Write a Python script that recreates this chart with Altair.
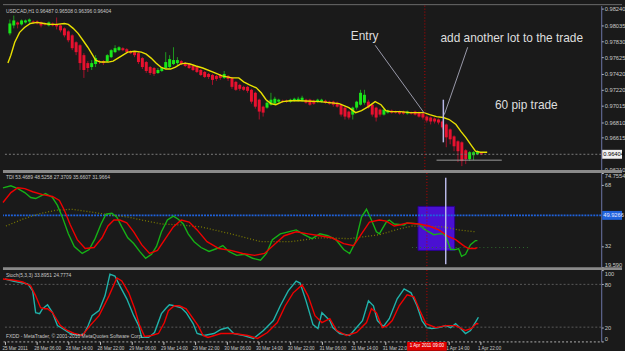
import altair as alt
import pandas as pd

# ---------------- data ----------------
opens = [0.97930, 0.98030, 0.98068, 0.98043, 0.98068, 0.98080, 0.98080, 0.98080, 0.98068, 0.98055,
         0.98030, 0.98055, 0.98043, 0.98030, 0.97993, 0.97955, 0.97905, 0.97818, 0.97780, 0.97655,
         0.97555, 0.97505, 0.97543, 0.97580, 0.97580, 0.97580, 0.97630, 0.97693, 0.97718, 0.97743,
         0.97730, 0.97705, 0.97693, 0.97680, 0.97618, 0.97568, 0.97505, 0.97493, 0.97430, 0.97455,
         0.97493, 0.97505, 0.97543, 0.97555, 0.97580, 0.97555, 0.97543, 0.97518, 0.97505, 0.97468,
         0.97443, 0.97418, 0.97405, 0.97393, 0.97405, 0.97368, 0.97393, 0.97368, 0.97318, 0.97280,
         0.97255, 0.97255, 0.97218, 0.97180, 0.97093, 0.97005, 0.96993, 0.97030, 0.97043, 0.97068,
         0.97080, 0.97080, 0.97068, 0.97080, 0.97080, 0.97080, 0.97093, 0.97093, 0.97080, 0.97068,
         0.97068, 0.97080, 0.97068, 0.97068, 0.97055, 0.97030, 0.96993, 0.96943, 0.96905, 0.96993,
         0.97030, 0.97055, 0.97068, 0.97030, 0.96993, 0.96968, 0.96905, 0.96930, 0.96955, 0.96943,
         0.96943, 0.96943, 0.96918, 0.96930, 0.96943, 0.96930, 0.96918, 0.96880, 0.96868, 0.96855,
         0.96843, 0.96818, 0.96780, 0.96718, 0.96630, 0.96568, 0.96555, 0.96455, 0.96343, 0.96393,
         0.96405, 0.96418]
closes = [0.98055, 0.98093, 0.98043, 0.98093, 0.98093, 0.98105, 0.98068, 0.98055, 0.98030, 0.98043,
          0.98068, 0.98030, 0.98018, 0.97968, 0.97905, 0.97843, 0.97743, 0.97693, 0.97555, 0.97468,
          0.97493, 0.97555, 0.97618, 0.97568, 0.97555, 0.97655, 0.97718, 0.97743, 0.97755, 0.97718,
          0.97693, 0.97680, 0.97655, 0.97568, 0.97505, 0.97455, 0.97430, 0.97418, 0.97468, 0.97493,
          0.97568, 0.97605, 0.97593, 0.97593, 0.97543, 0.97518, 0.97493, 0.97468, 0.97443, 0.97405,
          0.97380, 0.97380, 0.97343, 0.97355, 0.97368, 0.97418, 0.97355, 0.97255, 0.97218, 0.97230,
          0.97218, 0.97205, 0.97068, 0.97005, 0.96943, 0.96930, 0.97055, 0.97093, 0.97105, 0.97093,
          0.97068, 0.97068, 0.97093, 0.97105, 0.97105, 0.97118, 0.97055, 0.97030, 0.97043, 0.97093,
          0.97093, 0.97055, 0.97043, 0.97030, 0.97005, 0.96905, 0.96880, 0.96868, 0.96993, 0.97068,
          0.97180, 0.97155, 0.96993, 0.96905, 0.96868, 0.96905, 0.96968, 0.96955, 0.96930, 0.96930,
          0.96918, 0.96918, 0.96943, 0.96918, 0.96905, 0.96880, 0.96868, 0.96830, 0.96818, 0.96818,
          0.96805, 0.96743, 0.96618, 0.96593, 0.96505, 0.96443, 0.96318, 0.96343, 0.96430, 0.96430,
          0.96443, 0.96404]
highs = [0.98105, 0.98155, 0.98080, 0.98105, 0.98105, 0.98118, 0.98093, 0.98093, 0.98080, 0.98068,
         0.98080, 0.98068, 0.98130, 0.98043, 0.98005, 0.97968, 0.97918, 0.97830, 0.97793, 0.97680,
         0.97580, 0.97593, 0.97655, 0.97593, 0.97593, 0.97668, 0.97730, 0.97780, 0.97768, 0.97755,
         0.97743, 0.97718, 0.97705, 0.97693, 0.97630, 0.97580, 0.97518, 0.97505, 0.97493, 0.97505,
         0.97693, 0.97655, 0.97755, 0.97630, 0.97593, 0.97568, 0.97555, 0.97530, 0.97518, 0.97480,
         0.97455, 0.97430, 0.97418, 0.97405, 0.97418, 0.97455, 0.97405, 0.97380, 0.97330, 0.97293,
         0.97268, 0.97268, 0.97230, 0.97193, 0.97105, 0.97018, 0.97080, 0.97180, 0.97130, 0.97105,
         0.97093, 0.97093, 0.97105, 0.97118, 0.97130, 0.97143, 0.97105, 0.97105, 0.97093, 0.97105,
         0.97105, 0.97093, 0.97080, 0.97080, 0.97068, 0.97043, 0.97005, 0.96955, 0.97005, 0.97080,
         0.97218, 0.97218, 0.97093, 0.97043, 0.97005, 0.96980, 0.96980, 0.96968, 0.96968, 0.96955,
         0.96955, 0.96955, 0.96955, 0.96943, 0.96955, 0.96943, 0.96930, 0.96893, 0.96880, 0.96868,
         0.96855, 0.96830, 0.96793, 0.96730, 0.96643, 0.96580, 0.96568, 0.96468, 0.96443, 0.96443,
         0.96455, 0.96430]
lows = [0.97905, 0.97993, 0.97993, 0.98030, 0.98055, 0.98055, 0.98055, 0.98043, 0.98005, 0.98030,
        0.98018, 0.98018, 0.97980, 0.97943, 0.97880, 0.97818, 0.97718, 0.97655, 0.97468, 0.97368,
        0.97443, 0.97468, 0.97505, 0.97543, 0.97530, 0.97568, 0.97618, 0.97680, 0.97705, 0.97705,
        0.97680, 0.97668, 0.97630, 0.97543, 0.97480, 0.97430, 0.97405, 0.97393, 0.97418, 0.97443,
        0.97480, 0.97493, 0.97530, 0.97530, 0.97530, 0.97505, 0.97480, 0.97455, 0.97430, 0.97393,
        0.97368, 0.97355, 0.97280, 0.97330, 0.97343, 0.97355, 0.97330, 0.97230, 0.97205, 0.97205,
        0.97205, 0.97180, 0.97043, 0.96980, 0.96843, 0.96880, 0.96980, 0.97018, 0.97030, 0.97055,
        0.97055, 0.97055, 0.97055, 0.97068, 0.97068, 0.97068, 0.97043, 0.97018, 0.97030, 0.97055,
        0.97055, 0.97043, 0.97030, 0.97005, 0.96993, 0.96880, 0.96843, 0.96843, 0.96843, 0.96968,
        0.97018, 0.97030, 0.96980, 0.96880, 0.96818, 0.96880, 0.96893, 0.96918, 0.96918, 0.96918,
        0.96905, 0.96905, 0.96905, 0.96905, 0.96893, 0.96868, 0.96843, 0.96805, 0.96780, 0.96793,
        0.96780, 0.96718, 0.96493, 0.96530, 0.96443, 0.96305, 0.96255, 0.96280, 0.96318, 0.96330,
        0.96393, 0.96393]

ma_index = [-0.5, 0.25, 1.25, 2.5, 3.75, 5.25, 7, 8.75, 10.25, 12, 14, 15, 16.25, 17.5, 18.75, 20,
            21.25, 22, 23.25, 25.25, 26.5, 27.75, 29, 30.25, 32, 33.75, 35, 36.25, 37.5, 38.75, 40,
            41.25, 42.5, 43.75, 45, 46.25, 47.75, 49.5, 52, 54.5, 57, 58.75, 60, 61.5, 63.25, 64.5,
            65.75, 67, 68.25, 70, 72, 74.5, 79.5, 84.5, 87, 88.75, 90.25, 92, 93.75, 95.25, 96.5,
            97.75, 100.25, 102.75, 106.25, 107.75, 109.5, 111.25, 112.75, 114.5, 115.75, 117,
            118.25, 119.5, 120.75, 122.5]
ma_value = [0.97555, 0.97655, 0.97818, 0.97943, 0.98005, 0.98055, 0.98068, 0.98055, 0.98043, 0.98043,
            0.98055, 0.98043, 0.97993, 0.97930, 0.97843, 0.97755, 0.97655, 0.97593, 0.97568, 0.97568,
            0.97580, 0.97618, 0.97655, 0.97693, 0.97705, 0.97693, 0.97668, 0.97618, 0.97555, 0.97505,
            0.97480, 0.97480, 0.97505, 0.97543, 0.97555, 0.97543, 0.97518, 0.97493, 0.97443, 0.97393,
            0.97368, 0.97368, 0.97318, 0.97280, 0.97243, 0.97180, 0.97093, 0.97043, 0.97030, 0.97068,
            0.97080, 0.97080, 0.97068, 0.97043, 0.96993, 0.96930, 0.96955, 0.97005, 0.97068, 0.97030,
            0.96955, 0.96943, 0.96943, 0.96930, 0.96930, 0.96905, 0.96880, 0.96868, 0.96843, 0.96780,
            0.96693, 0.96618, 0.96530, 0.96443, 0.96430, 0.96430]

price_ticks = [0.98240, 0.98035, 0.97830, 0.97625, 0.97420, 0.97220, 0.97015, 0.96810, 0.96615, 0.96210]

tdi_rsi_index = [-0.5, 1.5, 3.25, 5, 6.5, 7.75, 10.25, 12, 13.25, 14.5, 16, 17.5, 19.5, 21.25, 22.75,
                 24.25, 25.5, 27, 28.25, 29.5, 31, 32.5, 34, 35.5, 37, 38.25, 39.5, 41, 42.5, 43.75,
                 45, 46.25, 47.75, 49.5, 51.5, 53.5, 55, 56.5, 58.5, 60.5, 62.5, 64.5, 66, 67.5, 69.5,
                 71.5, 73.5, 75.5, 77.5, 79.5, 81.5, 83.5, 85.5, 87, 88.5, 90, 91.25, 92.5, 93.75,
                 94.5, 96.25, 97, 98.25, 100.75, 101.5, 104.5, 105.75, 107, 108.25, 109.5, 110.75,
                 111.5, 112.5, 113.75, 114.5, 115.25, 116.25, 117.5, 118.75, 119.25]
tdi_rsi_value = [66.1, 67.3, 65.6, 63.3, 60.4, 59.8, 62.7, 60.4, 55.8, 48.9, 39.1, 31.7, 27.6, 29.9,
                 36.3, 44.9, 50.6, 51.2, 48.9, 43.2, 36.8, 33.4, 28.8, 24.8, 27.1, 31.7, 40.3, 47.2,
                 49.5, 47.7, 44.9, 39.1, 34.5, 31.1, 28.8, 30.5, 32.2, 28.8, 26.5, 27.1, 24.8, 23.6,
                 27.6, 35.7, 39.1, 40.3, 41.4, 38.6, 36.3, 39.1, 38.0, 35.7, 29.9, 27.6, 34.5, 48.9,
                 53.5, 47.2, 40.3, 39.1, 46.0, 47.2, 44.9, 44.3, 45.5, 44.9, 42.0, 40.3, 38.6, 39.1,
                 39.1, 36.3, 29.9, 29.9, 30.5, 25.9, 27.1, 32.8, 35.1, 35.1]
tdi_sig_index = [-0.5, 1.5, 3.25, 5, 7, 9.5, 12, 13.75, 15, 16.5, 18.25, 20.25, 22.5, 24.5, 26, 27.5,
                 29, 30.75, 32.5, 34.5, 36.5, 38.5, 40.5, 42.5, 44.5, 46.5, 48.5, 51, 54, 57, 60, 63,
                 65.5, 68, 70.5, 73.5, 76.5, 79.5, 82.5, 85.5, 88, 90, 92, 94.5, 96.25, 98.25, 99.5,
                 101.5, 104.5, 107, 109.5, 112, 113.75, 115.75, 117, 118.75, 119.25]
tdi_sig_value = [57.5, 63.3, 66.1, 65.6, 63.8, 62.1, 61.0, 58.7, 52.9, 44.3, 35.7, 30.5, 31.1, 36.8,
                 43.7, 47.2, 47.2, 45.5, 40.3, 32.8, 27.6, 29.4, 36.3, 43.2, 47.2, 46.0, 41.4, 34.5,
                 30.5, 29.4, 27.6, 26.5, 27.6, 32.8, 38.0, 40.3, 39.1, 38.0, 36.8, 33.4, 32.2, 39.1,
                 46.0, 47.2, 46.6, 43.7, 44.3, 45.5, 44.9, 43.7, 41.4, 37.4, 35.7, 32.2, 30.5, 30.5, 31.1]
tdi_base_index = [0.25, 4.5, 8.25, 12.75, 17, 22, 27, 31.25, 34.5, 39.5, 44.5, 49.5, 57, 64.5, 72,
                  79.5, 87, 94.5, 99.5, 102.75, 110.75, 114.5, 118.75]
tdi_base_value = [43.7, 47.7, 50.6, 52.9, 53.5, 51.8, 50.0, 48.9, 47.2, 44.9, 44.3, 43.2, 39.1, 34.5,
                  34.5, 36.8, 36.3, 38.6, 42.0, 43.7, 43.2, 41.4, 40.3]
tdi_mid_level = 49.9266
tdi_ticks = [19.59, 32, 68, 74.7554]

stk_index = [0, 2, 4.5, 5.75, 7, 7.75, 8.75, 9.5, 10.75, 12, 13.25, 14.5, 16.5, 18.75, 20, 21, 22,
             23.75, 25.25, 26.5, 27.75, 29, 30.75, 32.5, 33.75, 34.5, 36.25, 37.75, 39.5, 40.75,
             41.5, 42.75, 44.5, 45.75, 47.5, 48.5, 50.25, 52.75, 54.5, 56.25, 57.75, 60.25, 62.75,
             65.25, 67.75, 69.5, 71.5, 73.5, 74.5, 76, 77.75, 79, 80, 82, 82.75, 84.5, 87, 88.75,
             90.25, 91.75, 93, 94, 95.5, 97, 99, 100.75, 102.5, 104, 105.25, 106.5, 107.75, 109.5,
             111.25, 112.5, 113.75, 115, 116.25, 117.5, 118.25, 119, 119.5]
stk_value = [87.5, 84.7, 81.9, 80.6, 70.8, 40.3, 38.9, 45.8, 51.4, 40.3, 22.2, 18.1, 11.1, 8.3, 11.1,
             22.2, 36.1, 43.1, 63.9, 94.4, 91.7, 77.8, 59.7, 36.1, 22.2, 5.6, 5.6, 12.5, 38.9, 47.2,
             51.4, 50.0, 47.2, 40.3, 25.0, 11.1, 8.3, 11.1, 16.7, 19.4, 11.1, 8.3, 4.2, 15.3, 29.2,
             50.0, 70.8, 84.7, 81.9, 56.9, 23.6, 18.1, 40.3, 29.2, 19.4, 11.1, 8.3, 19.4, 29.2, 56.9,
             50.0, 29.2, 20.8, 31.9, 59.7, 73.6, 68.1, 50.0, 29.2, 19.4, 18.1, 19.4, 22.2, 19.4,
             25.0, 18.1, 11.1, 15.3, 22.2, 29.2, 33.9]
std_index = [-0.5, 2, 4.5, 6.5, 7.75, 9, 10, 10.75, 12, 14, 15.75, 17.5, 19.5, 21.5, 23.75, 26.25,
             28.25, 29.5, 31.25, 32.75, 34, 35.25, 37, 38.75, 40.25, 41.25, 42.75, 44, 45.75, 47.5,
             48.75, 50, 51.25, 54.5, 57.75, 61.25, 63.75, 66.25, 68.75, 70.75, 72.75, 75, 76.5,
             78.25, 80, 82, 83.75, 86.25, 88.75, 91.25, 92.5, 93.75, 95.25, 96.5, 97.75, 99.5,
             101.5, 103.25, 104.75, 106.25, 108.75, 111.25, 113.75, 116.25, 117.75, 119, 119.5]
std_value = [87.5, 86.1, 83.3, 77.8, 63.9, 47.2, 45.8, 45.8, 40.3, 22.2, 15.3, 11.1, 8.3, 22.2, 36.1,
             63.9, 88.9, 84.7, 68.1, 45.8, 22.2, 6.9, 8.3, 11.1, 26.4, 43.1, 50.0, 50.0, 45.8, 31.9,
             22.2, 8.3, 5.6, 11.1, 11.1, 8.3, 4.2, 12.5, 26.4, 50.0, 68.1, 79.2, 63.9, 36.1, 26.4,
             31.9, 15.3, 8.3, 12.5, 26.4, 45.8, 40.3, 19.4, 22.2, 29.2, 50.0, 65.3, 62.5, 43.1,
             25.0, 19.4, 22.2, 22.2, 15.3, 18.1, 25.0, 24.8]

time_tick_index = [0, 8, 16, 24, 32, 40, 48, 56, 64, 72, 80, 88, 96, 112, 120]
time_labels = ["25 Mar 2011", "28 Mar 06:00", "28 Mar 14:00", "28 Mar 22:00", "29 Mar 06:00",
               "29 Mar 14:00", "29 Mar 22:00", "30 Mar 06:00", "30 Mar 14:00", "30 Mar 22:00",
               "31 Mar 06:00", "31 Mar 14:00", "31 Mar 22:00", "1 Apr 06:00", "1 Apr 14:00",
               "1 Apr 22:00"]
entry_index = 106.5
entry_time = "1 Apr 2011 09:00"

notes_text = ["Entry", "add another lot to the trade", "60 pip trade"]
notes_i = [87.5, 110.5, 124.5]
notes_p = [0.97893, 0.97868, 0.97030]
seg_i = [93.75, 117.5]
seg_p = [0.97780, 0.97755]
seg_i2 = [106.25, 111.5]
seg_p2 = [0.96930, 0.96905]

# ---------------- style ----------------
BG = "#1a1a1a"
TXT = "#c8c8c8"
SEP = "#8a8a8a"
AXL = "#6c75a8"
FONT_S = "Liberation Sans, Arial, sans-serif"
FONT_A = "Liberation Sans, Arial, sans-serif"
SMALL = 5
TIME_FS = 4.6
W = 604
XS = alt.Scale(domain=[-0.5, 150.5], nice=False, zero=False)
BOX = "M-1,-0.45L1,-0.45L1,0.45L-1,0.45Z"
ONE = pd.DataFrame({"k": [0]})


def yaxis(values, fmt=None, expr=None, flush=False):
    kw = dict(orient="right", values=values, labelFontSize=5.8, labelFont=FONT_S, labelColor=TXT,
              tickColor=TXT, tickSize=2, labelPadding=1, domainColor=AXL, grid=False,
              labelOverlap=False, labelFlush=flush, title=None)
    if fmt:
        kw["format"] = fmt
    if expr:
        kw["labelExpr"] = expr
    return alt.Axis(**kw)


def X(f):
    return alt.X(f, type="quantitative", scale=XS, axis=None, title=None)


def fixed_text(txt, x, y, size=SMALL, color=TXT, font=FONT_S, align="left"):
    return alt.Chart(ONE).mark_text(text=txt, align=align, baseline="middle", fontSize=size,
                                    font=font, color=color).encode(x=alt.value(x), y=alt.value(y))


def band(y, width=3, color=SEP):
    return alt.Chart(ONE).mark_rule(color=color, strokeWidth=width).encode(
        x=alt.value(0), x2=alt.value(625), y=alt.value(y))


def cross(xenc):
    return alt.Chart(pd.DataFrame({"i": [entry_index]})).mark_rule(
        color="#c00000", strokeDash=[1, 2], strokeWidth=1).encode(x=xenc("i"))


# ---------------- panel 1: price ----------------
YS1 = alt.Scale(domain=[0.96205, 0.98280], nice=False, zero=False)
AX1 = yaxis(price_ticks, fmt=".5f")


def Y1(f):
    return alt.Y(f, type="quantitative", scale=YS1, axis=AX1, title=None)


candles = pd.DataFrame({"i": list(range(len(opens))), "o": opens, "h": highs, "l": lows, "c": closes})
candles["dir"] = ["up" if c >= o else "down" for o, c in zip(opens, closes)]

wicks = alt.Chart(candles).mark_rule(strokeWidth=1).encode(
    x=X("i"), y=Y1("l"), y2=alt.Y2("h"),
    stroke=alt.Stroke("dir:N", scale=alt.Scale(domain=["up", "down"], range=["#1f9a1f", "#a8102a"]),
                      legend=None))
bodies = alt.Chart(candles).mark_bar(size=3, strokeWidth=0).encode(
    x=X("i"), y=Y1("o"), y2=alt.Y2("c"),
    fill=alt.Fill("dir:N", scale=alt.Scale(domain=["up", "down"], range=["#19e619", "#e8112f"]),
                  legend=None))
ma = alt.Chart(pd.DataFrame({"i": ma_index, "v": ma_value})).mark_line(
    color="#e8e000", strokeWidth=1.4).encode(x=X("i"), y=Y1("v"))
last_df = pd.DataFrame({"p": [closes[-1]]})
cur_line = alt.Chart(last_df).mark_rule(color="#7a7a7a", strokeDash=[2, 2]).encode(y=Y1("p"))
segs = alt.Chart(pd.DataFrame({"x": seg_i, "y": seg_p, "x2": seg_i2, "y2": seg_p2})).mark_rule(
    color="#9a9aaa", strokeWidth=1).encode(x=X("x"), y=Y1("y"), x2=alt.X2("x2"), y2=alt.Y2("y2"))
wline = alt.Chart(pd.DataFrame({"x": [111.25], "y": [0.97093], "y2": [0.96555]})).mark_rule(
    color="#b8b8e8", strokeWidth=1.5).encode(x=X("x"), y=Y1("y"), y2=alt.Y2("y2"))
hline = alt.Chart(pd.DataFrame({"x": [109.5], "x2": [126.25], "y": [0.96330]})).mark_rule(
    color="#9a9a9a", strokeWidth=1).encode(x=X("x"), x2=alt.X2("x2"), y=Y1("y"))
notes = alt.Chart(pd.DataFrame({"t": notes_text, "x": notes_i, "y": notes_p})).mark_text(
    align="left", baseline="middle", font=FONT_A, fontSize=12, color="#dedede").encode(
    x=X("x"), y=Y1("y"), text="t:N")
title1 = fixed_text("USDCAD,H1 0.96487 0.96508 0.96396 0.96404", 3, 5)
box1 = alt.Chart(last_df).mark_point(shape=BOX, size=400, filled=True, color="#f0f0f0",
                                     opacity=1).encode(x=alt.value(W + 11), y=Y1("p"))
boxt1 = alt.Chart(last_df).mark_text(align="left", baseline="middle", fontSize=5.8, font=FONT_S,
                                      color="#000000").encode(
    x=alt.value(W + 2), y=Y1("p"), text=alt.Text("p:Q", format=".5f"))
topline = band(-1, width=1, color="#6a6a6a")

p1 = alt.layer(wicks, bodies, ma, cur_line, cross(X), segs, wline, hline, notes, title1,
               box1, boxt1, topline).properties(width=W, height=166)

# ---------------- panel 2: TDI ----------------
YS2 = alt.Scale(domain=[19.59, 74.7554], nice=False, zero=False)
AX2 = yaxis(tdi_ticks, expr="datum.value > 74 ? '74.7554' : (datum.value < 20 ? '19.590' : format(datum.value, 'd'))",
            flush=True)


def Y2(f):
    return alt.Y(f, type="quantitative", scale=YS2, axis=AX2, title=None)


rect = alt.Chart(pd.DataFrame({"x": [104.25], "x2": [113.5], "y": [55.2], "y2": [29.4]})).mark_rect(
    color="#4a10d2", stroke="#2a0090", strokeWidth=1).encode(
    x=X("x"), x2=alt.X2("x2"), y=Y2("y"), y2=alt.Y2("y2"))
mid_df = pd.DataFrame({"v": [tdi_mid_level]})
blue_level = alt.Chart(mid_df).mark_rule(color="#1f62dc", strokeWidth=2, strokeDash=[2, 1]).encode(y=Y2("v"))
lowband = alt.Chart(pd.DataFrame({"x": [102.75], "x2": [132.75], "y": [31.1]})).mark_rule(
    color="#2f6a2f", strokeDash=[1, 3]).encode(x=X("x"), x2=alt.X2("x2"), y=Y2("y"))
base = alt.Chart(pd.DataFrame({"i": tdi_base_index, "v": tdi_base_value})).mark_line(
    color="#7a7a00", strokeWidth=1.3, strokeDash=[1, 2]).encode(x=X("i"), y=Y2("v"))
rsi = alt.Chart(pd.DataFrame({"i": tdi_rsi_index, "v": tdi_rsi_value})).mark_line(
    color="#16b016", strokeWidth=1.4).encode(x=X("i"), y=Y2("v"))
sig = alt.Chart(pd.DataFrame({"i": tdi_sig_index, "v": tdi_sig_value})).mark_line(
    color="#f00000", strokeWidth=1.4).encode(x=X("i"), y=Y2("v"))
wline2 = alt.Chart(pd.DataFrame({"x": [111.25], "y": [72.0], "y2": [21.3]})).mark_rule(
    color="#b8b8e8", strokeWidth=1.5).encode(x=X("x"), y=Y2("y"), y2=alt.Y2("y2"))
title2 = fixed_text("TDI 53.4689 48.5258 27.3709 35.6607 31.9664", 3, 4)
box2 = alt.Chart(mid_df).mark_point(shape=BOX, size=400, filled=True, color="#1f62dc",
                                    opacity=1).encode(x=alt.value(W + 11), y=Y2("v"))
boxt2 = alt.Chart(mid_df).mark_text(align="left", baseline="middle", fontSize=5.8, font=FONT_S,
                                     color="#e8e8ff").encode(
    x=alt.value(W + 2), y=Y2("v"), text=alt.Text("v:Q", format=".4f"))

p2 = alt.layer(rect, blue_level, lowband, base, rsi, sig, cross(X), wline2, title2, band(-1.5),
               box2, boxt2).properties(width=W, height=95)

# ---------------- panel 3: Stochastic ----------------
YS3 = alt.Scale(domain=[0, 100], nice=False, zero=False)
AX3 = yaxis([0, 20, 80, 100], fmt="d", flush=True)
label_expr = "[" + ",".join("'" + s + "'" for s in time_labels) + "][datum.value / 8]"
AXX = alt.Axis(orient="bottom", values=time_tick_index, labelExpr=label_expr, labelFontSize=TIME_FS,
               labelFont=FONT_S, labelColor=TXT, labelAlign="left", labelPadding=1, labelOffset=-3,
               tickSize=3, tickColor=TXT, domainColor="#b0b0b0", domainDash=[2, 2], grid=False,
               labelOverlap=False, labelFlush=False, title=None)


def X3(f):
    return alt.X(f, type="quantitative", scale=XS, axis=AXX, title=None)


def Y3(f):
    return alt.Y(f, type="quantitative", scale=YS3, axis=AX3, title=None)


levels = alt.Chart(pd.DataFrame({"v": [20, 80]})).mark_rule(color="#5a5a5a", strokeDash=[2, 2]).encode(y=Y3("v"))
stk = alt.Chart(pd.DataFrame({"i": stk_index, "v": stk_value})).mark_line(
    color="#20b2aa", strokeWidth=1.4).encode(x=X3("i"), y=Y3("v"))
std = alt.Chart(pd.DataFrame({"i": std_index, "v": std_value})).mark_line(
    color="#f00000", strokeWidth=1.4).encode(x=X3("i"), y=Y3("v"))
title3 = fixed_text("Stoch(5,3,3) 33.8951 24.7774", 3, 5)
footer = fixed_text("FXDD - MetaTrader, © 2001-2010 MetaQuotes Software Corp.", 3, 67)
tdf = pd.DataFrame({"i": [entry_index], "t": [entry_time]})
tbox = alt.Chart(tdf).mark_point(shape="M-1,-0.22L1,-0.22L1,0.22L-1,0.22Z", size=1600, filled=True,
                                 color="#e00000", opacity=1).encode(x=X3("i"), y=alt.value(77))
ttxt = alt.Chart(tdf).mark_text(align="center", baseline="middle", fontSize=TIME_FS, font=FONT_S,
                                color="#ffffff").encode(x=X3("i"), y=alt.value(77), text="t:N")

p3 = alt.layer(levels, stk, std, cross(X3), title3, footer, band(-1.5), tbox, ttxt).properties(
    width=W, height=72)

chart = alt.vconcat(p1, p2, p3, spacing=3, bounds="flush").properties(
    background=BG, padding={"left": 0, "top": 2, "right": 0, "bottom": 0}
).configure_view(stroke=None)

chart.save("out.html", embed_options={"renderer": "svg", "actions": False})
